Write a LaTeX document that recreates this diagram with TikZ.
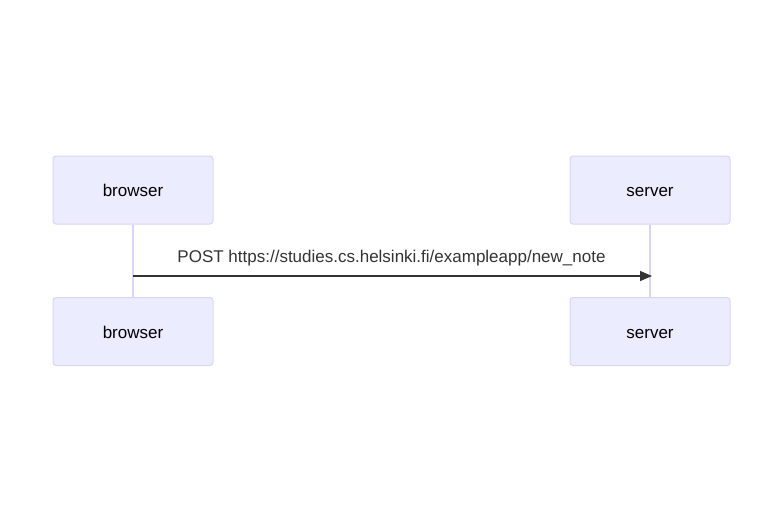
\documentclass[tikz,border=0pt]{standalone}
\usepackage{fontspec}
\setmainfont{Liberation Sans}
\usetikzlibrary{arrows.meta}
\definecolor{actfill}{HTML}{ECECFF}
\definecolor{actline}{HTML}{DCD4F6}
\definecolor{msgcol}{HTML}{333333}
\begin{document}
\begin{tikzpicture}[x=1pt,y=-1pt,
  actor/.style={draw=actline,fill=actfill,line width=1pt,rounded corners=3pt,
    minimum width=160pt,minimum height=68pt,inner sep=0pt,
    text height=13.5pt,text depth=0.5pt,
    font=\fontsize{17}{20}\selectfont,text=black},
  lifeline/.style={draw=actline,line width=1.5pt},
  msg/.style={draw=msgcol,line width=1.3pt,-{Triangle[length=12pt,width=10pt]}},
  msglabel/.style={font=\fontsize{17}{20}\selectfont,text=msgcol,inner sep=0pt,
    text height=12.5pt,text depth=3.5pt}]
\useasboundingbox (0,0) rectangle (783,523);
\node[actor] (b1) at (133,190) {browser};
\node[actor] (s1) at (650,190) {server};
\node[actor] (b2) at (133,331.5) {browser};
\node[actor] (s2) at (650,331.5) {server};
\draw[lifeline] (b1.south) -- (b2.north);
\draw[lifeline] (s1.south) -- (s2.north);
\coordinate (ms) at (133,276);
\coordinate (me) at (652,276);
\draw[msg] (ms) -- (me);
\node[msglabel] (ml) at (391.5,258) {POST https://studies.cs.helsinki.fi/exampleapp/new\_note};
\end{tikzpicture}
\end{document}
